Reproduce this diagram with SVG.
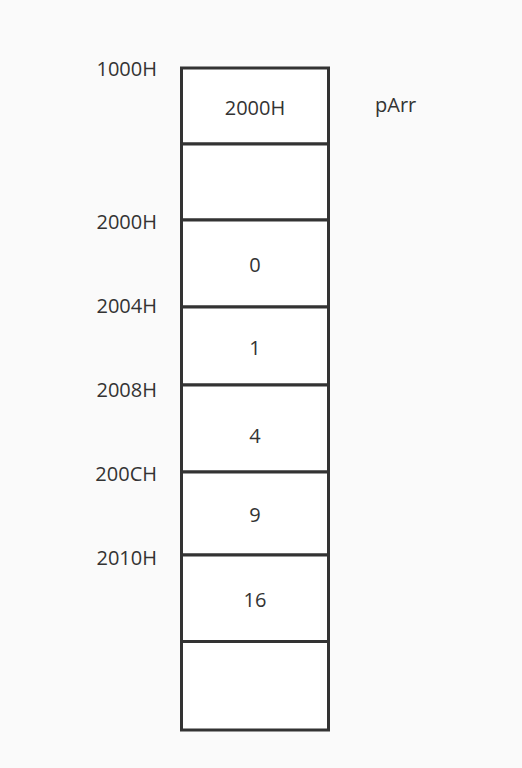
<svg xmlns="http://www.w3.org/2000/svg" width="522" height="768" viewBox="0 0 522 768">
<style>
.cell{fill:#ffffff;stroke:#333333;stroke-width:3}
.t{font-family:"Open Sans","Noto Sans",sans-serif;font-size:20px;fill:#333333}
.c{text-anchor:middle}
.l{text-anchor:end}
</style>
<rect x="0" y="0" width="522" height="768" fill="#fafafa"/>
<g id="cell-ptr"><rect class="cell" x="181.5" y="68" width="147" height="76"/><text class="t c" x="255" y="115">2000H</text></g>
<g id="cell-empty1"><rect class="cell" x="181.5" y="144" width="147" height="76"/></g>
<g id="cell-0"><rect class="cell" x="181.5" y="220" width="147" height="87"/><text class="t c" x="255" y="272">0</text></g>
<g id="cell-1"><rect class="cell" x="181.5" y="307" width="147" height="78"/><text class="t c" x="255" y="355">1</text></g>
<g id="cell-4"><rect class="cell" x="181.5" y="385" width="147" height="87"/><text class="t c" x="255" y="443">4</text></g>
<g id="cell-9"><rect class="cell" x="181.5" y="472" width="147" height="83"/><text class="t c" x="255" y="522">9</text></g>
<g id="cell-16"><rect class="cell" x="181.5" y="555" width="147" height="86.5"/><text class="t c" x="255" y="607">16</text></g>
<g id="cell-empty2"><rect class="cell" x="181.5" y="641.5" width="147" height="88.5"/></g>
<g id="labels">
<text class="t l" x="157" y="76">1000H</text>
<text class="t l" x="157" y="229">2000H</text>
<text class="t l" x="157" y="313">2004H</text>
<text class="t l" x="157" y="397">2008H</text>
<text class="t l" x="157" y="481">200CH</text>
<text class="t l" x="157" y="565">2010H</text>
<text class="t" x="375" y="112">pArr</text>
</g>
<g id="connectors"></g>
</svg>
